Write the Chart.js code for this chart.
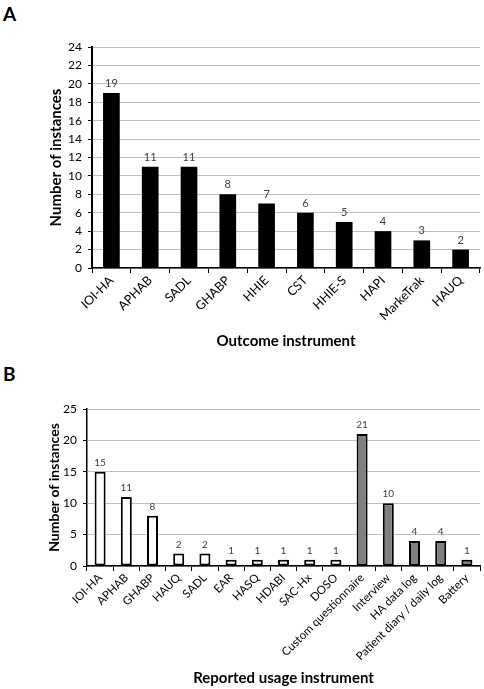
<!DOCTYPE html>
<html>
<head>
<meta charset="utf-8">
<script src="https://cdn.jsdelivr.net/npm/chart.js@4.4.1/dist/chart.umd.min.js"></script>
<style>
  body { margin: 0; background: #fff; width: 484px; height: 689px; position: relative; overflow: hidden; font-family: Lato, sans-serif; }
  .panel { position: absolute; left: 0; width: 484px; }
  .letter { position: absolute; left: 3px; font: bold 19px Lato, sans-serif; color: #000; }
</style>
</head>
<body>
<div class="letter" style="top:2px">A</div>
<div class="letter" style="top:362px">B</div>
<div class="panel" style="top:30px;height:320px"><canvas id="chartA"></canvas></div>
<div class="panel" style="top:350px;height:339px"><canvas id="chartB"></canvas></div>
<script>
// panel A
const outcomeLabels = ["IOI-HA","APHAB","SADL","GHABP","HHIE","CST","HHIE-S","HAPI","MarkeTrak","HAUQ"]
const outcomeCounts = [19, 11, 11, 8, 7, 6, 5, 4, 3, 2]

// panel B
const usageLabels = ["IOI-HA","APHAB","GHABP","HAUQ","SADL","EAR","HASQ","HDABI","SAC-Hx","DOSO",
  "Custom questionnaire","Interview","HA data log","Patient diary / daily log","Battery"]
const usageCounts = [15, 11, 8, 2, 2, 1, 1, 1, 1, 1, 21, 10, 4, 4, 1]
const usageGroup = ["std","std","std","std","std","std","std","std","std","std","other","other","other","other","other"]

Chart.defaults.font.family = "Lato, sans-serif"
Chart.defaults.color = "#000"
Chart.defaults.animation = false

// small value labels on top of each bar
const valueLabels = {
  id: 'valueLabels',
  afterDatasetsDraw(chart, args, opts) {
    const ctx = chart.ctx
    const meta = chart.getDatasetMeta(0)
    ctx.save()
    ctx.font = opts.size + 'px Lato, sans-serif'
    ctx.fillStyle = '#404040'
    ctx.textAlign = 'center'
    ctx.textBaseline = 'bottom'
    meta.data.forEach((bar, i) => {
      ctx.fillText(chart.data.datasets[0].data[i], bar.x, bar.y - opts.gap)
    })
    ctx.restore()
  }
}

function makeChart(id, labels, values, cfg) {
  return new Chart(id, {
    type: 'bar',
    data: {
      labels: labels,
      datasets: [{
        data: values,
        backgroundColor: cfg.fill,
        borderColor: '#000',
        borderWidth: cfg.border,
        borderSkipped: false,
        barPercentage: cfg.barPct,
        categoryPercentage: 1
      }]
    },
    options: {
      responsive: true,
      maintainAspectRatio: false,
      layout: { padding: { left: cfg.padLeft, top: cfg.padTop, right: 4, bottom: 0 } },
      plugins: {
        legend: { display: false },
        tooltip: { enabled: false },
        valueLabels: { size: cfg.valSize, gap: cfg.valGap }
      },
      scales: {
        x: {
          grid: { display: true, drawOnChartArea: false, offset: true, tickLength: 5, color: '#000', tickWidth: 1 },
          border: { color: '#000', width: 1.5 },
          ticks: { maxRotation: 45, minRotation: 45, autoSkip: false, font: { size: cfg.xSize }, color: '#000', padding: 0 },
          title: { display: true, text: cfg.xTitle, font: { size: 15, weight: 'bold' }, padding: { top: 0, bottom: cfg.xTitleBottom } },
          afterFit: s => { s.height = cfg.xHeight }
        },
        y: {
          min: 0, max: cfg.yMax,
          ticks: { stepSize: cfg.yStep, font: { size: 12 }, color: '#000', padding: 6 },
          grid: { color: '#c0c0c0', lineWidth: 1, tickLength: 4, tickColor: '#000' },
          border: { color: '#000', width: cfg.yBorder },
          title: { display: true, text: 'Number of instances', font: { size: cfg.yTitleSize, weight: 'bold' }, padding: 0 },
          afterFit: s => { s.width = cfg.yWidth }
        }
      }
    },
    plugins: [valueLabels]
  })
}

makeChart('chartA', outcomeLabels, outcomeCounts, {
  fill: '#000', border: 0, barPct: 0.43, padLeft: 47, padTop: 17,
  valSize: 11, valGap: 4, xSize: 12.5, xTitle: 'Outcome instrument', xTitleBottom: 0, xHeight: 82,
  yMax: 24, yStep: 2, yTitleSize: 15, yWidth: 45, yBorder: 2
})

makeChart('chartB', usageLabels, usageCounts, {
  fill: usageGroup.map(g => g === 'std' ? '#ffffff' : '#808080'), border: 2, barPct: 0.42, padLeft: 46, padTop: 59,
  valSize: 10, valGap: 4, xSize: 11.5, xTitle: 'Reported usage instrument', xTitleBottom: 2, xHeight: 123,
  yMax: 25, yStep: 5, yTitleSize: 14, yWidth: 41, yBorder: 1.5
})
</script>
</body>
</html>
